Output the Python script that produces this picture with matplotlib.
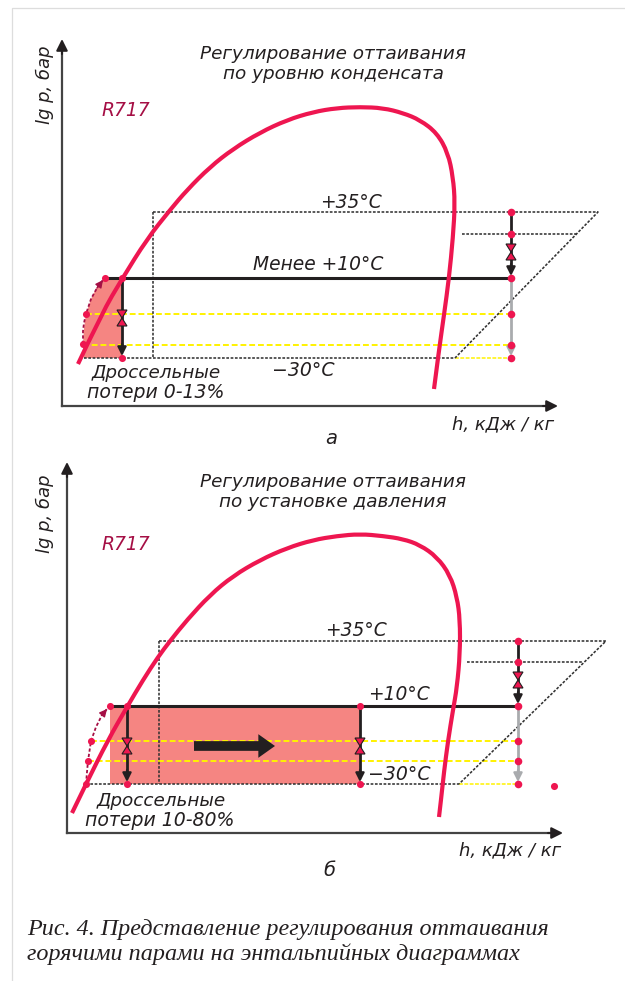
#!/usr/bin/env python3
import matplotlib
matplotlib.use("Agg")
import matplotlib.pyplot as plt
from matplotlib.patches import Polygon, FancyArrowPatch, PathPatch
from matplotlib.path import Path

W, H = 625, 981
RED = "#ee1650"
FILL = "#f58582"
DARK = "#231f20"
GRAY = "#a9abae"
YEL = "#fff200"
WINE = "#a50f45"

# saturation curves
curve_a_x = [78, 102, 122, 147, 170, 187, 210, 233, 260, 287, 313, 337, 360, 383, 403, 420, 437, 448, 453, 455, 453,
             449, 444, 439, 434]
curve_a_y = [364, 313, 279, 239, 210, 190, 167, 149, 132.5, 120, 112, 108, 107, 108, 113, 120, 133, 153, 177, 203, 237,
             278, 315, 350, 389]
curve_b_x = [72, 86, 108, 127, 143, 158, 170, 187, 210, 233, 260, 287, 313, 337, 360, 383, 403, 420, 437, 450, 457,
             460, 460, 457, 453, 448, 444, 441, 439]
curve_b_y = [813, 784, 740, 707, 680, 657, 641, 620, 595, 576, 560, 548, 540, 536, 534, 536, 539, 545, 557, 575, 597,
             620, 653, 687, 710, 741, 772, 800, 817]

# panel a
fill_a_x = [105, 122, 122, 84, 83, 84, 86, 91, 97]
fill_a_y = [278, 278, 358, 358, 344, 328, 314, 299, 287]
arc_a_x = [83, 83, 84, 86, 91, 97, 103]
arc_a_y = [344, 331, 323, 314, 299, 288, 280]
levels_a = [212, 234, 278, 314, 345, 358]
dots_a_x = [105, 122, 86, 83, 122]
dots_a_y = [278, 278, 314, 344, 358]

# panel b
fill_b_x = [110, 360, 360, 110]
fill_b_y = [706, 706, 784, 784]
arc_b_x = [86, 87, 88, 91, 96, 102, 107]
arc_b_y = [784, 772, 761, 741, 727, 715, 709]
levels_b = [641, 662, 706, 741, 761, 784]
dots_b_x = [110, 127, 360, 91, 88, 86, 127, 360, 554]
dots_b_y = [706, 706, 706, 741, 761, 784, 784, 784, 786]

fig = plt.figure(figsize=(W / 100, H / 100), dpi=100)
ax = fig.add_axes([0, 0, 1, 1])
ax.set_xlim(0, W)
ax.set_ylim(H, 0)
ax.axis("off")


def arrow(x0, y0, x1, y1, color=DARK, lw=1.6, scale=11, z=5):
    ax.add_patch(FancyArrowPatch((x0, y0), (x1, y1), arrowstyle="-|>", mutation_scale=scale,
                                 color=color, lw=lw, shrinkA=0, shrinkB=0, zorder=z))


def valve(x, y):
    # two small triangles tip to tip
    ax.add_patch(Polygon([(x - 5, y - 8), (x + 5, y - 8), (x, y)], fc=RED, ec=DARK, lw=0.8, zorder=6))
    ax.add_patch(Polygon([(x - 5, y + 8), (x + 5, y + 8), (x, y)], fc=RED, ec=DARK, lw=0.8, zorder=6))


def dotted(xs, ys, lw=1.15):
    ax.plot(xs, ys, color="#333333", lw=lw, ls=(0, (1.7, 1.0)), zorder=3)


def smooth_curve(xs, ys):
    # read points act as control points of quadratic beziers
    pts = list(zip(xs, ys))
    verts = [pts[0]]
    codes = [Path.MOVETO]
    for i in range(1, len(pts) - 1):
        nxt = pts[i + 1] if i == len(pts) - 2 else ((pts[i][0] + pts[i + 1][0]) / 2, (pts[i][1] + pts[i + 1][1]) / 2)
        verts += [pts[i], nxt]
        codes += [Path.CURVE3, Path.CURVE3]
    ax.add_patch(PathPatch(Path(verts, codes), fc="none", ec=RED, lw=3.0, zorder=7, capstyle="butt", joinstyle="round"))


def panel(cx, cy, x0, axis_y, x_end, y_top, x_box, x_right, x_far, x_low, x_short0, x_short1, levels,
          fill_x, fill_y, arc_x, arc_y, dots_x, dots_y, x_black0):
    # fill goes first so all the lines stay on top
    ax.add_patch(Polygon(list(zip(fill_x, fill_y)), fc=FILL, ec="none", zorder=1))

    ax.plot([x0, x0], [axis_y, y_top + 10], color="#444444", lw=1.6, zorder=3)
    ax.plot([x0, x_end - 10], [axis_y, axis_y], color="#444444", lw=1.6, zorder=3)
    arrow(x0, y_top + 15, x0, y_top, lw=1.5, scale=17)
    arrow(x_end - 15, axis_y, x_end, axis_y, lw=1.5, scale=17)

    top, short, mid, y1, y2, bot = levels
    dotted([x_box, x_far, x_low], [top, top, bot])
    dotted([x_box, x_box], [top, bot])
    dotted([fill_x[3] if len(fill_x) > 4 else arc_x[0], x_low], [bot, bot])
    dotted([x_short0, x_short1], [short, short])
    ax.plot([x_low, x_right], [bot, bot], color=YEL, lw=1.1, ls=(0, (2.5, 1)), zorder=2)
    ax.plot([arc_x[3], x_right], [y1, y1], color=YEL, lw=1.4, ls=(0, (3, 1.5)), zorder=2)
    ax.plot([arc_x[2] if len(fill_x) == 4 else arc_x[0], x_right], [y2, y2], color=YEL, lw=1.4, ls=(0, (3, 1.5)), zorder=2)

    ax.plot([x_black0, x_right], [mid, mid], color=DARK, lw=2.2, zorder=4, solid_capstyle="butt")
    ax.plot([x_right, x_right], [top, mid - 10], color=DARK, lw=2.0, zorder=4)
    arrow(x_right, mid - 14, x_right, mid - 2, scale=13)
    ax.plot([x_right, x_right], [mid, bot - 8], color=GRAY, lw=2.0, zorder=4)
    arrow(x_right, bot - 14, x_right, bot - 2, color=GRAY, scale=13)
    valve(x_right, mid - 26)

    ax.plot(arc_x, arc_y, color=WINE, lw=1.3, ls=(0, (1.8, 1.2)), zorder=5)
    arrow(arc_x[-2], arc_y[-2], arc_x[-1], arc_y[-1], color=WINE, lw=1, scale=11)

    smooth_curve(cx, cy)

    ax.scatter(dots_x, dots_y, s=26, color=RED, lw=0, zorder=8)
    ax.scatter([x_right] * 6, levels, s=30, color=RED, lw=0, zorder=8)


panel(curve_a_x, curve_a_y, 62, 406, 558, 39, 153, 511, 598, 455, 462, 577, levels_a,
      fill_a_x, fill_a_y, arc_a_x, arc_a_y, dots_a_x, dots_a_y, 105)
panel(curve_b_x, curve_b_y, 67, 833, 563, 462, 159, 518, 606, 459, 467, 583, levels_b,
      fill_b_x, fill_b_y, arc_b_x, arc_b_y, dots_b_x, dots_b_y, 110)

# inner verticals with valves
ax.plot([122, 122], [278, 348], color=DARK, lw=2.0, zorder=4)
arrow(122, 344, 122, 356, scale=13)
valve(122, 318)
for x in [127, 360]:
    ax.plot([x, x], [706, 774], color=DARK, lw=2.0, zorder=4)
    arrow(x, 770, x, 782, scale=13)
    valve(x, 746)
ax.add_patch(FancyArrowPatch((194, 746), (275, 746), arrowstyle="simple,head_length=12,head_width=17,tail_width=7",
                             color=DARK, lw=0, shrinkA=0, shrinkB=0, zorder=5))

# faint page edges
ax.plot([12, 12, 625], [981, 8, 8], color="#dddddd", lw=0.9, zorder=0)

label = dict(family="DejaVu Sans", style="italic", color=DARK, ha="center", va="center", zorder=9)
fs = 13.2
ax.text(333, 54, "Регулирование оттаивания", fontsize=fs, **label)
ax.text(333, 74, "по уровню конденсата", fontsize=fs, **label)
ax.text(333, 482, "Регулирование оттаивания", fontsize=fs, **label)
ax.text(333, 502, "по установке давления", fontsize=fs, **label)
ax.text(126, 111, "R717", fontsize=13.5, family="DejaVu Sans", style="italic", color=WINE, ha="center", va="center")
ax.text(126, 544, "R717", fontsize=13.5, family="DejaVu Sans", style="italic", color=WINE, ha="center", va="center")
ax.text(45, 85, "lg p, бар", fontsize=13, rotation=90, **label)
ax.text(45, 514, "lg p, бар", fontsize=13, rotation=90, **label)

ax.text(351, 202, "+35°C", fontsize=13.4, **label)
ax.text(318, 265, "Менее +10°C", fontsize=13.4, **label)
ax.text(303, 371, "−30°C", fontsize=13.6, **label)
ax.text(156, 373, "Дроссельные", fontsize=13.2, **label)
ax.text(156, 393, "потери 0-13%", fontsize=13.6, **label)
ax.text(503, 424, "h, кДж / кг", fontsize=13, **label)
ax.text(331, 438, "а", fontsize=14, **label)

ax.text(356, 631, "+35°C", fontsize=13.4, **label)
ax.text(399, 695, "+10°C", fontsize=13.4, **label)
ax.text(399, 775, "−30°C", fontsize=13.6, **label)
ax.text(161, 801, "Дроссельные", fontsize=13.2, **label)
ax.text(160, 821, "потери 10-80%", fontsize=13.6, **label)
ax.text(510, 850, "h, кДж / кг", fontsize=13, **label)
ax.text(329, 870, "б", fontsize=14, **label)

caption = dict(family="Liberation Serif", style="italic", color=DARK, ha="left", va="center", fontsize=17.4)
ax.text(27, 929, "Рис. 4. Представление регулирования оттаивания", **caption)
ax.text(27, 954, "горячими парами на энтальпийных диаграммах", **caption)

fig.savefig("out.png", dpi=100)
